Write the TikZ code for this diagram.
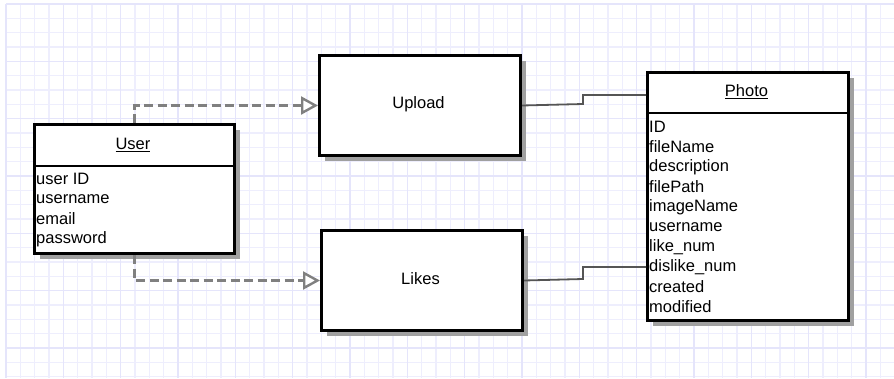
\documentclass[tikz,border=0pt]{standalone}
\usepackage{fontspec}
\setmainfont{Liberation Sans}
\usetikzlibrary{arrows.meta,shadows}
\definecolor{gridminor}{RGB}{238,238,253}
\definecolor{gridmajor}{RGB}{229,229,251}
\definecolor{dashgray}{RGB}{128,128,128}
\definecolor{linkgray}{RGB}{85,85,85}
\definecolor{shadowgray}{RGB}{160,160,160}
\tikzset{
  box/.style={draw=black, line width=3pt, fill=white, inner sep=0pt,
    drop shadow={shadow xshift=5.5pt, shadow yshift=-5.5pt, fill=shadowgray, opacity=1}},
  divider/.style={draw=black, line width=2.8pt},
  attr/.style={anchor=west, inner sep=0pt, font=\fontsize{16.5}{20}\selectfont},
  title/.style={inner sep=0pt, font=\fontsize{16.5}{20}\selectfont},
  depend/.style={draw=dashgray, line width=2.4pt, dash pattern=on 9pt off 4.5pt,
    -{Triangle[open, length=17pt, width=18pt, line width=2.4pt, fill=white]}},
  link/.style={draw=linkgray, line width=1.8pt},
}
\begin{document}
\begin{tikzpicture}[x=1pt, y=-1pt]
\useasboundingbox (0,0) rectangle (894,378);
\fill[white] (0,0) rectangle (894,378);
% grid
\foreach \i in {0,...,62} {
  \draw[gridminor, line width=1.2pt] ({6+14.333*\i},4) -- ({6+14.333*\i},378);
}
\foreach \j in {0,...,26} {
  \draw[gridminor, line width=1.2pt] (6,{4+14.333*\j}) -- (894,{4+14.333*\j});
}
\foreach \i in {0,...,15} {
  \draw[gridmajor, line width=1.4pt] ({6+57.333*\i},4) -- ({6+57.333*\i},378);
}
\foreach \j in {0,...,6} {
  \draw[gridmajor, line width=1.4pt] (6,{4+57.333*\j}) -- (894,{4+57.333*\j});
}

% User
\node[box, minimum width=200pt, minimum height=129pt, anchor=north west] (user) at (33,123) {};
\draw[divider] (33,166) -- (233,166);
\node[title] (usertitle) at (133,145) {\underline{User}};
\node[attr] (u1) at (36,179) {user ID};
\node[attr] (u2) at (36,199) {username};
\node[attr] (u3) at (36,219) {email};
\node[attr] (u4) at (36,239) {password};

% Upload
\node[box, minimum width=201pt, minimum height=100pt, anchor=north west] (upload) at (318,54) {};
\node[title] (uploadtext) at (418.5,104) {Upload};

% Likes
\node[box, minimum width=201pt, minimum height=100pt, anchor=north west] (likes) at (320,229) {};
\node[title] (likestext) at (420.5,279) {Likes};

% Photo
\node[box, minimum width=201pt, minimum height=248pt, anchor=north west] (photo) at (646,71) {};
\draw[divider] (646,113) -- (847,113);
\node[title] (phototitle) at (746.5,92) {\underline{Photo}};
\node[attr] (p1) at (649,127) {ID};
\node[attr] (p2) at (649,147) {fileName};
\node[attr] (p3) at (649,167) {description};
\node[attr] (p4) at (649,187) {filePath};
\node[attr] (p5) at (649,207) {imageName};
\node[attr] (p6) at (649,227) {username};
\node[attr] (p7) at (649,247) {like\_num};
\node[attr] (p8) at (649,267) {dislike\_num};
\node[attr] (p9) at (649,287) {created};
\node[attr] (p10) at (649,307) {modified};

% dependency connectors
\draw[depend] (user.north) |- (upload.west);
\draw[depend] (user.south) |- (likes.west);

% association connectors
\coordinate (ua) at (583,104);
\coordinate (ub) at (583,95);
\coordinate (pa) at (646,95);
\draw[link] (upload.east) -- (ua) -- (ub) -- (pa);
\coordinate (la) at (583,279);
\coordinate (lb) at (583,267);
\coordinate (pb) at (646,267);
\draw[link] (likes.east) -- (la) -- (lb) -- (pb);
\end{tikzpicture}
\end{document}
